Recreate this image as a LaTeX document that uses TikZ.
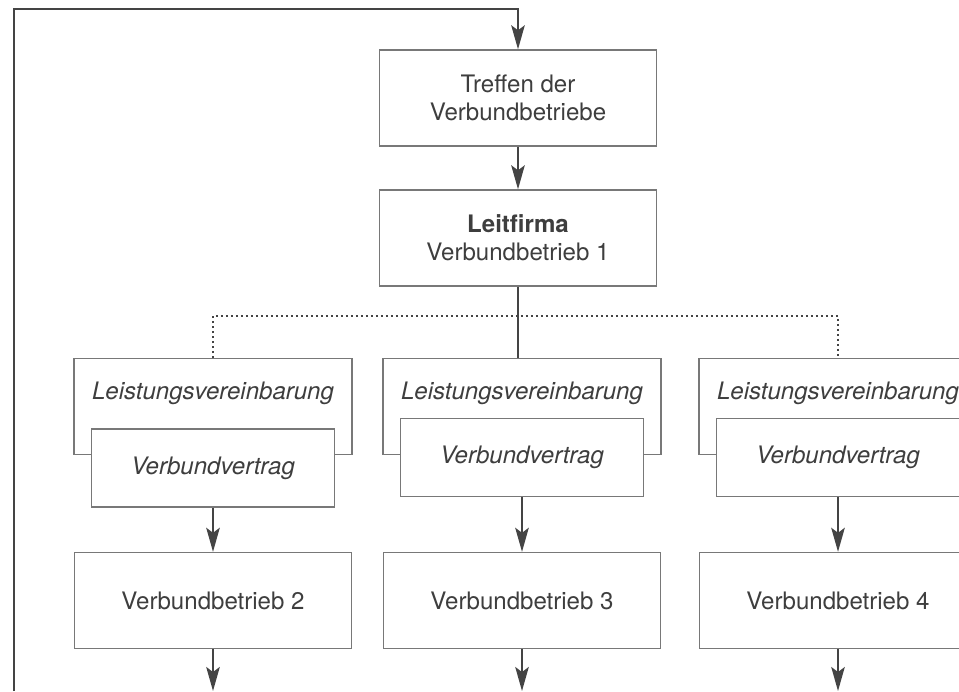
\documentclass[tikz,border=0pt]{standalone}
\usepackage{fontspec}
\setmainfont{TeX Gyre Heros}
\usepackage{xcolor}
\definecolor{vbtext}{RGB}{62,62,62}
\definecolor{vbframe}{RGB}{120,120,120}
\definecolor{vbarrow}{RGB}{68,68,68}
\usetikzlibrary{arrows.meta, positioning}

\begin{document}
\begin{tikzpicture}[x=0.02cm, y=-0.02cm,
  font=\fontsize{13.7}{16}\selectfont, text=vbtext,
  box/.style={draw=vbframe, line width=0.8pt, fill=white, align=center,
    minimum width=5.54cm, minimum height=1.92cm, inner sep=0pt},
  leistbox/.style={draw=vbframe, line width=0.8pt, fill=white, anchor=north,
    minimum width=5.56cm, inner xsep=0pt, inner ysep=0pt,
    text height=0.82cm, text depth=1.1cm, font=\fontsize{13.7}{16}\selectfont\itshape},
  vertragbox/.style={draw=vbframe, line width=0.8pt, fill=white,
    minimum width=4.86cm, minimum height=1.56cm, inner sep=0pt,
    font=\fontsize{13.7}{16}\selectfont\itshape},
  flow/.style={draw=vbarrow, line width=1.15pt,
    -{Stealth[length=0.48cm, width=0.27cm, inset=0.1cm]}},
  link/.style={draw=vbarrow, line width=1.15pt},
  dots/.style={draw=vbarrow, line width=1pt, dash pattern=on 0.035cm off 0.065cm}]
  \clip (0,0) rectangle (959,691);

  % Top: meeting and lead company
  \node[box] (treffen) at (518,98) {Treffen der\\Verbundbetriebe};
  \node[box] (leit) at (518,238) {{\bfseries Leitfirma}\\Verbundbetrieb 1};

  % Agreements per partner
  \node[leistbox] (leist1) at (213,358) {Leistungsvereinbarung};
  \node[leistbox] (leist2) at (522,358) {Leistungsvereinbarung};
  \node[leistbox] (leist3) at (838,358) {Leistungsvereinbarung};
  \node[vertragbox] (vertrag1) at (213,468) {Verbundvertrag};
  \node[vertragbox] (vertrag2) at (522,457.5) {Verbundvertrag};
  \node[vertragbox] (vertrag3) at (838,457.5) {Verbundvertrag};

  % Partner companies
  \node[box] (betrieb2) at (213,600.5) {Verbundbetrieb 2};
  \node[box] (betrieb3) at (522,600.5) {Verbundbetrieb 3};
  \node[box] (betrieb4) at (838,600.5) {Verbundbetrieb 4};

  % Helper coordinates
  \coordinate (loopbot) at (14,691);
  \coordinate (looptop) at (14,9);
  \coordinate (dotrow) at (0,316);
  \coordinate (bottom) at (0,691);

  % Connectors
  \draw[flow] (loopbot) -- (looptop) -| (treffen.north);
  \draw[flow] (treffen) -- (leit);
  \draw[dots] (leist1.north) |- (leist3.north |- dotrow) -- (leist3.north);
  \draw[link] (leit.south) -- (leit.south |- leist2.north);
  \draw[flow] (vertrag1) -- (betrieb2);
  \draw[flow] (vertrag2) -- (betrieb3);
  \draw[flow] (vertrag3) -- (betrieb4);
  \draw[flow] (betrieb2.south) -- (betrieb2.south |- bottom);
  \draw[flow] (betrieb3.south) -- (betrieb3.south |- bottom);
  \draw[flow] (betrieb4.south) -- (betrieb4.south |- bottom);
\end{tikzpicture}
\end{document}
